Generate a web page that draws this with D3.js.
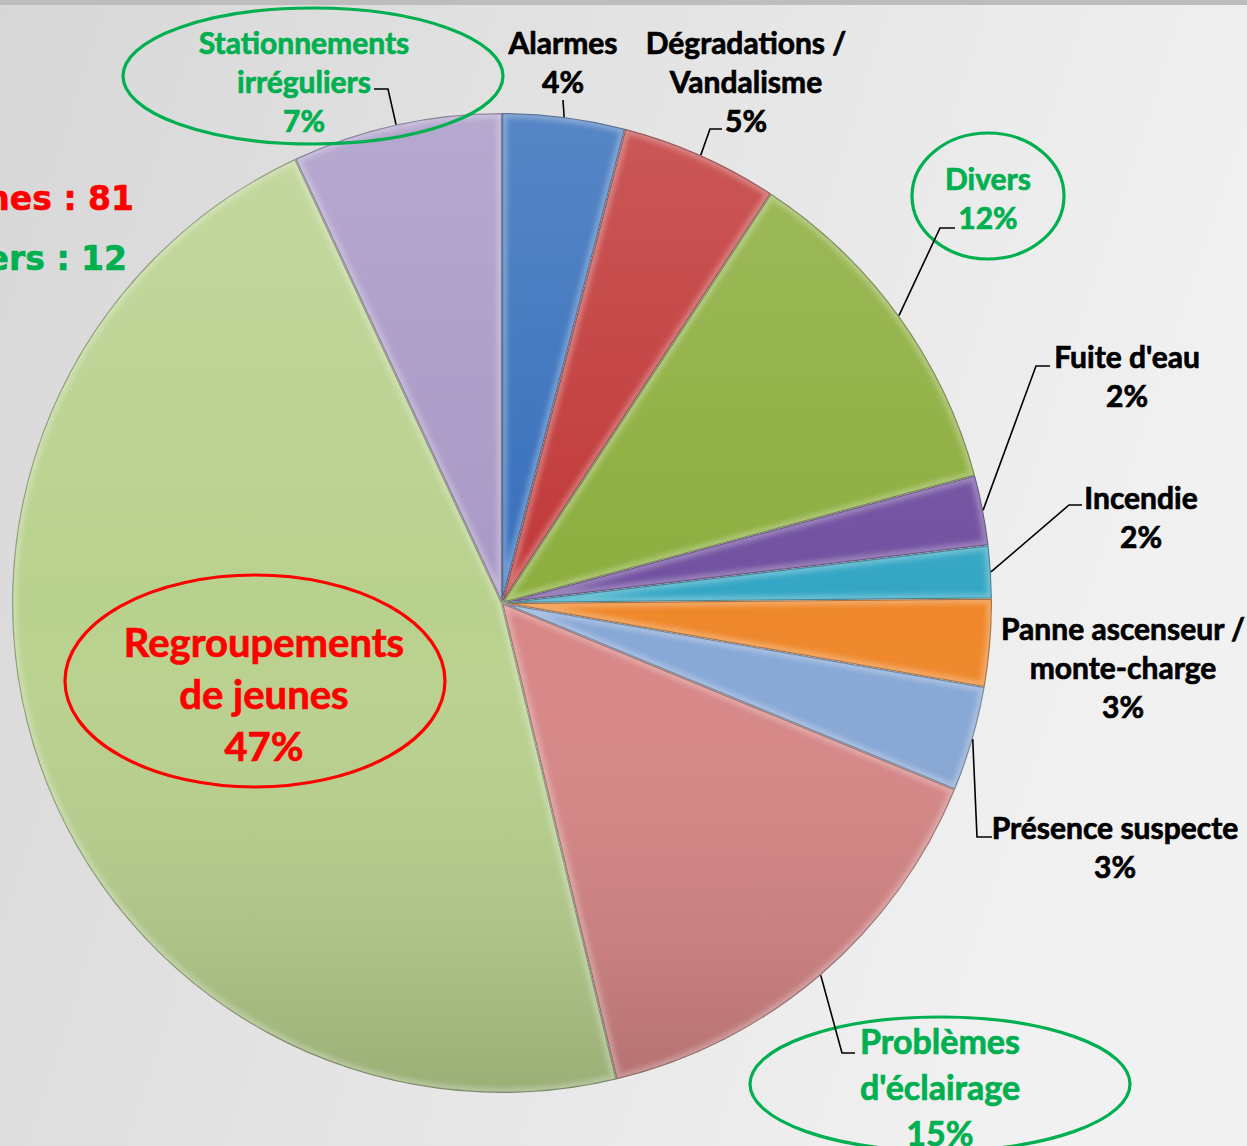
<!DOCTYPE html>
<html><head><meta charset="utf-8">
<script src="https://cdn.jsdelivr.net/npm/d3@7"></script>
<style>html,body{margin:0;padding:0;overflow:hidden;background:#e2e2e2}</style>
</head><body>
<script>
// ---- data ----
const categories = ["Alarmes","Dégradations / Vandalisme","Divers","Fuite d'eau","Incendie",
  "Panne ascenseur / monte-charge","Présence suspecte","Problèmes d'éclairage",
  "Regroupements de jeunes","Stationnements irréguliers"];
const counts = [7, 9, 20, 4, 3, 5, 6, 26, 81, 12];
const sliceColors = ["#366fbb","#c13838","#8cae3e","#7150a0","#33a6c4","#ef872a","#86a7d6","#d88686","#b9d18e","#a898c6"];
const labelLines = [["Alarmes"],["Dégradations /","Vandalisme"],["Divers"],["Fuite d'eau"],["Incendie"],
  ["Panne ascenseur /","monte-charge"],["Présence suspecte"],["Problèmes","d'éclairage"],
  ["Regroupements","de jeunes"],["Stationnements","irréguliers"]];
const sideNotes = [{text:"Regroupements de jeunes : 81", color:"#ff0000"},
                   {text:"Stationnements irréguliers : 12", color:"#00b050"}];

// ---- layout ----
const W = 1247, H = 1146, cx = 502, cy = 603, R = 490;
const GREEN = "#00b050", RED = "#ff0000";
const labelLayout = [
  {x:563, y:42, color:"#000", size:30, lh:39, leader:[[563,100]]},
  {x:746, y:42, color:"#000", size:30, lh:39, leader:[[710,129],[722,129]]},
  {x:988, y:178, color:GREEN, size:30, lh:39, leader:[[940,228],[955,228]], ell:{cx:988,cy:196,rx:76,ry:63}},
  {x:1127, y:356, color:"#000", size:30, lh:39, leader:[[1036,366],[1050,366]]},
  {x:1141, y:497, color:"#000", size:30, lh:39, leader:[[1069,505],[1082,505]]},
  {x:1123, y:628, color:"#000", size:30, lh:39, leader:null},
  {x:1115, y:827, color:"#000", size:30, lh:39, leader:[[977,837],[992,837]]},
  {x:940, y:1040, color:GREEN, size:34, lh:46, leader:[[842,1053],[855,1053]], ell:{cx:940,cy:1084,rx:190,ry:67}},
  {x:264, y:642, color:RED, size:40, lh:52, leader:null, ell:{cx:255,cy:681,rx:190,ry:106}},
  {x:304, y:42, color:GREEN, size:30, lh:39, leader:[[388,89],[374,89]], ell:{cx:313,cy:76,rx:190,ry:68}}
];
const notePos = [{x:134, y:198},{x:127, y:258}];

const svg = d3.select("body").append("svg").attr("width", W).attr("height", H);
const defs = svg.append("defs");

const bg = defs.append("linearGradient").attr("id","bg").attr("x1","0").attr("y1","0").attr("x2","1").attr("y2","0.3");
bg.append("stop").attr("offset","0").attr("stop-color","#d7d7d7");
bg.append("stop").attr("offset","1").attr("stop-color","#f1f1f1");
svg.append("rect").attr("width",W).attr("height",H).attr("fill","url(#bg)");
svg.append("rect").attr("width",W).attr("height",5).attr("fill","#bdbdbd");

const shade = defs.append("linearGradient").attr("id","shade").attr("gradientUnits","userSpaceOnUse")
  .attr("x1",cx).attr("y1",cy-R).attr("x2",cx).attr("y2",cy+R);
shade.append("stop").attr("offset","0").attr("stop-color","#fff").attr("stop-opacity",0.16);
shade.append("stop").attr("offset","0.5").attr("stop-color","#fff").attr("stop-opacity",0);
shade.append("stop").attr("offset","1").attr("stop-color","#000").attr("stop-opacity",0.17);

defs.append("filter").attr("id","blur").attr("x","-5%").attr("y","-5%").attr("width","110%").attr("height","110%")
  .append("feGaussianBlur").attr("stdDeviation",2.5);

// ---- side notes ----
sideNotes.forEach((n,i)=>{
  svg.append("text").attr("x",notePos[i].x).attr("y",notePos[i].y)
    .attr("text-anchor","end").attr("dominant-baseline","central")
    .attr("font-family","DejaVu Sans").attr("font-weight","bold").attr("font-size",33)
    .attr("fill",n.color).attr("stroke",n.color).attr("stroke-width",0.6).text(n.text);
});

// ---- pie ----
const total = d3.sum(counts);
const pie = d3.pie().sort(null).value(d=>d)(counts);
const arc = d3.arc().innerRadius(0).outerRadius(R);
const pg = svg.append("g");
pie.forEach((p,i)=>{
  const path = arc(p);
  defs.append("clipPath").attr("id","c"+i).append("path").attr("d",path).attr("transform",`translate(${cx},${cy})`);
  const s = pg.append("g").attr("clip-path",`url(#c${i})`);
  s.append("path").attr("d",path).attr("transform",`translate(${cx},${cy})`).attr("fill",sliceColors[i]);
  s.append("circle").attr("cx",cx).attr("cy",cy).attr("r",R).attr("fill","url(#shade)");
  s.append("path").attr("d",path).attr("transform",`translate(${cx},${cy})`)
    .attr("fill","none").attr("stroke","#fff").attr("stroke-opacity",0.28).attr("stroke-width",10)
    .attr("filter","url(#blur)");
  s.append("path").attr("d",path).attr("transform",`translate(${cx},${cy})`)
    .attr("fill","none").attr("stroke","#000").attr("stroke-opacity",0.3).attr("stroke-width",2.4);
});

// ---- labels ----
pie.forEach((p,i)=>{
  const L = labelLayout[i];
  const mid = (p.startAngle+p.endAngle)/2;
  if (L.ell) {
    svg.append("ellipse").attr("cx",L.ell.cx).attr("cy",L.ell.cy).attr("rx",L.ell.rx).attr("ry",L.ell.ry)
      .attr("fill","none").attr("stroke",L.color).attr("stroke-width",3.2);
  }
  if (L.leader) {
    const start = [cx + R*Math.sin(mid), cy - R*Math.cos(mid)];
    svg.append("path").attr("d", d3.line()([start, ...L.leader]))
      .attr("fill","none").attr("stroke","#000").attr("stroke-width",1.6);
  }
  const lines = [...labelLines[i], Math.round(counts[i]/total*100)+"%"];
  const t = svg.append("text").attr("font-family","Lato").attr("font-weight","bold")
    .attr("font-size",L.size).attr("fill",L.color).attr("stroke",L.color).attr("stroke-width",0.7)
    .attr("text-anchor","middle");
  lines.forEach((ln,k)=>{
    t.append("tspan").attr("x",L.x).attr("y",L.y + k*L.lh).attr("dominant-baseline","central").text(ln);
  });
});
</script>
</body></html>
